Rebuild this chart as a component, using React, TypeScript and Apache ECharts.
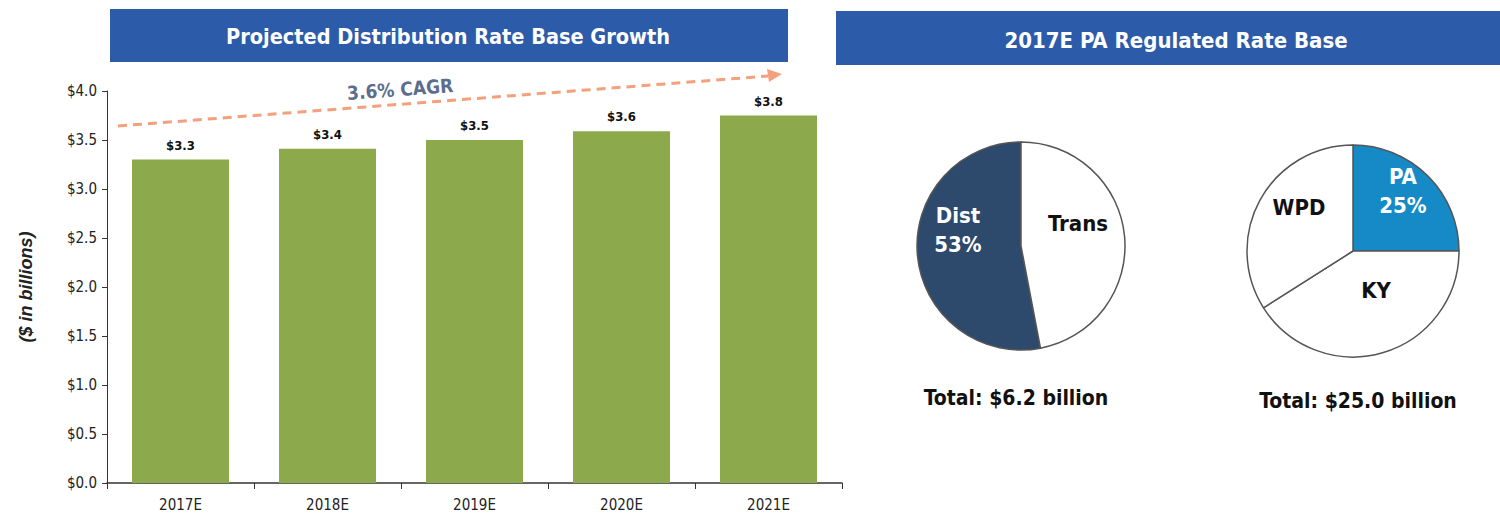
import React, { useEffect, useRef } from "react";
import * as echarts from "echarts";

const years = ["2017E", "2018E", "2019E", "2020E", "2021E"];
const rateBase = [3.3, 3.41, 3.5, 3.59, 3.75];
const rateBaseLabels = ["$3.3", "$3.4", "$3.5", "$3.6", "$3.8"];
const yTicks = ["$0.0", "$0.5", "$1.0", "$1.5", "$2.0", "$2.5", "$3.0", "$3.5", "$4.0"];

const paNames = ["Dist", "Trans"];
const paValues = [53, 47];
const ppNames = ["PA", "KY", "WPD"];
const ppValues = [25, 41, 34];

const COND = "'Liberation Sans Narrow', 'DejaVu Sans Condensed', Arial, sans-serif";
const SANS = "'Liberation Sans', Arial, sans-serif";

export default function App() {
  const ref = useRef<HTMLDivElement>(null);
  useEffect(() => {
    const chart = echarts.init(ref.current!, null, { renderer: "svg" });
    const pieLabel = (x: number, y: number, text: string, color: string) => ({
      type: "text",
      x,
      y,
      z: 100,
      style: {
        text,
        fill: color,
        font: `bold 22px ${COND}`,
        align: "center",
        verticalAlign: "middle",
        lineHeight: 29,
      },
    });
    chart.setOption({
      animation: false,
      backgroundColor: "#ffffff",
      grid: { left: 107, right: 658, top: 91, bottom: 35 },
      xAxis: {
        type: "category",
        data: years,
        axisLine: { lineStyle: { color: "#333", width: 1.5 } },
        axisTick: { show: true, length: 6, lineStyle: { color: "#333" } },
        axisLabel: { color: "#222", fontSize: 15, fontFamily: COND, margin: 14 },
      },
      yAxis: {
        type: "value",
        min: 0,
        max: 4,
        interval: 0.5,
        name: "($ in billions)",
        nameLocation: "middle",
        nameGap: 72,
        nameTextStyle: { fontSize: 18, fontWeight: "bold", fontStyle: "italic", color: "#222", fontFamily: SANS },
        splitLine: { show: false },
        axisLine: { show: true, lineStyle: { color: "#333", width: 1 } },
        axisTick: { show: true, length: 5, lineStyle: { color: "#333" } },
        axisLabel: {
          color: "#222",
          fontSize: 15,
          fontFamily: COND,
          margin: 10,
          formatter: (v: number) => yTicks[Math.round(v / 0.5)],
        },
      },
      series: [
        {
          type: "bar",
          data: rateBase,
          barWidth: "66%",
          itemStyle: { color: "#8CAA4C" },
          label: {
            show: true,
            position: "top",
            distance: 8,
            color: "#111",
            fontSize: 13,
            fontWeight: "bold",
            fontFamily: COND,
            formatter: (p: any) => rateBaseLabels[p.dataIndex],
          },
        },
        {
          type: "pie",
          center: [1021, 246],
          radius: 104,
          startAngle: 90,
          clockwise: false,
          label: { show: false },
          labelLine: { show: false },
          itemStyle: { borderColor: "#555", borderWidth: 1.5 },
          data: paNames.map((n, i) => ({
            name: n,
            value: paValues[i],
            itemStyle: { color: i === 0 ? "#2D4A6D" : "#ffffff" },
          })),
        },
        {
          type: "pie",
          center: [1353, 251],
          radius: 106,
          startAngle: 90,
          clockwise: true,
          label: { show: false },
          labelLine: { show: false },
          itemStyle: { borderColor: "#555", borderWidth: 1.5 },
          data: ppNames.map((n, i) => ({
            name: n,
            value: ppValues[i],
            itemStyle: { color: i === 0 ? "#168AC6" : "#ffffff" },
          })),
        },
      ],
      graphic: [
        { type: "rect", shape: { x: 110, y: 9, width: 678, height: 53 }, style: { fill: "#2C5CA9" } },
        {
          type: "text",
          x: 448,
          y: 36,
          style: { text: "Projected Distribution Rate Base Growth", fill: "#fff", font: `bold 21.5px ${COND}`, align: "center", verticalAlign: "middle" },
        },
        { type: "rect", shape: { x: 836, y: 11, width: 664, height: 54 }, style: { fill: "#2C5CA9" } },
        {
          type: "text",
          x: 1176,
          y: 40,
          style: { text: "2017E PA Regulated Rate Base", fill: "#fff", font: `bold 22px ${COND}`, align: "center", verticalAlign: "middle" },
        },
        {
          type: "line",
          shape: { x1: 118, y1: 126, x2: 768, y2: 76 },
          style: { stroke: "#F4A07C", lineWidth: 3, lineDash: [9, 6] },
        },
        {
          type: "polygon",
          shape: { points: [[782, 74], [767, 69], [769, 82]] },
          style: { fill: "#F4A07C" },
        },
        {
          type: "text",
          x: 400,
          y: 89,
          rotation: 0.075,
          style: { text: "3.6% CAGR", fill: "#5C6E8C", font: `bold 19px ${COND}`, align: "center", verticalAlign: "middle" },
        },
        pieLabel(958, 230, `${paNames[0]}\n${paValues[0]}%`, "#ffffff"),
        pieLabel(1078, 223, paNames[1], "#111111"),
        pieLabel(1403, 191, `${ppNames[0]}\n${ppValues[0]}%`, "#ffffff"),
        pieLabel(1376, 290, ppNames[1], "#111111"),
        pieLabel(1299, 207, ppNames[2], "#111111"),
        {
          type: "text",
          x: 1016,
          y: 398,
          style: { text: "Total: $6.2 billion", fill: "#111", font: `bold 21px ${COND}`, align: "center", verticalAlign: "middle" },
        },
        {
          type: "text",
          x: 1358,
          y: 401,
          style: { text: "Total: $25.0 billion", fill: "#111", font: `bold 21px ${COND}`, align: "center", verticalAlign: "middle" },
        },
      ],
    });
    return () => chart.dispose();
  }, []);
  return <div ref={ref} style={{ position: "fixed", left: 0, top: 0, width: 1500, height: 518 }} />;
}
